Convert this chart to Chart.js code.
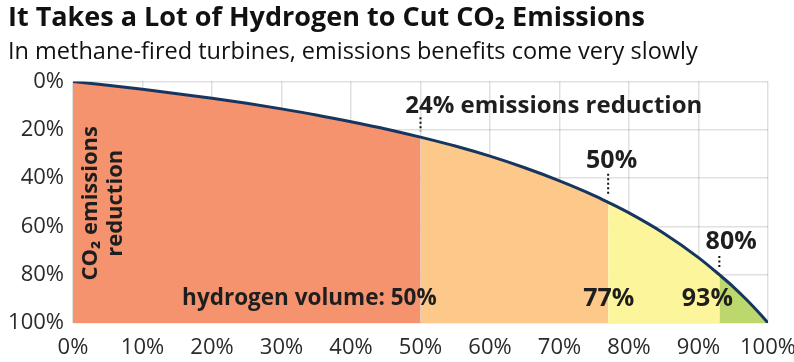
<!DOCTYPE html>
<html><head><meta charset="utf-8">
<script src="https://cdn.jsdelivr.net/npm/chart.js@4/dist/chart.umd.min.js"></script>
<style>html,body{margin:0;padding:0;background:#fff}#wrap{width:794px;height:362px}</style>
</head><body><div id="wrap"><canvas id="c" width="794" height="362"></canvas></div>
<script>
// hydrogen volume share (%) and CO2 emissions reduction (%)
const hydrogenVolume = [0, 5, 10, 15, 20, 25, 30, 35, 40, 45, 50, 55, 60, 65, 70, 75, 77, 80, 85, 90, 93, 95, 97, 99, 100];
const emissionsReduction = [0, 1.5, 3.2, 5.0, 6.9, 9.0, 11.3, 13.8, 16.6, 19.6, 23.0, 26.7, 30.9, 35.7, 41.1, 47.2, 50.0, 54.4, 62.8, 72.9, 80.0, 85.0, 90.6, 96.7, 100];
// colour band boundaries (hydrogen volume %)
const bandEdges = [0, 50, 77, 93, 100];
const bandColors = ['#f5936f', '#fcc98a', '#fdf59b', '#bcd86c'];
const xTicks = [0, 10, 20, 30, 40, 50, 60, 70, 80, 90, 100];
const yTicks = [0, 20, 40, 60, 80, 100];
// annotation labels: text, x (hydrogen %), y (reduction %)
const labelTexts = ['24% emissions reduction', '50%', '80%', 'hydrogen volume: 50%', '77%', '93%'];
const labelX = [47.8, 77.5, 94.7, 15.7, 73.4, 87.6];
const labelY = [10, 32.8, 66.4, 90, 90, 90];
const labelAlign = ['left', 'center', 'center', 'left', 'left', 'left'];
const labelSize = [24, 25, 25, 22.5, 25, 25];
// dotted leader lines: x (hydrogen %), from y to y (reduction %)
const leaderX = [50, 77, 93];
const leaderFrom = [14.8, 38.2, 72.2];
const leaderTo = [20.6, 46.8, 77.6];

const curvePts = hydrogenVolume.map((x, i) => ({x, y: emissionsReduction[i]}));
const bandSets = bandColors.map((col, b) => ({
  data: curvePts.filter(p => p.x >= bandEdges[b] && p.x <= bandEdges[b + 1]),
  backgroundColor: col, borderWidth: 0, pointRadius: 0, order: 2,
  fill: {value: 100}, cubicInterpolationMode: 'monotone'
}));

const FONT = "'Open Sans', sans-serif";
const annot = {
  id: 'annot',
  afterDatasetsDraw(chart) {
    const {ctx, scales: {x, y}} = chart;
    ctx.save();
    ctx.fillStyle = '#1e1e1e';
    ctx.textBaseline = 'middle';
    labelTexts.forEach((t, i) => {
      ctx.font = 'bold ' + labelSize[i] + 'px ' + FONT;
      ctx.textAlign = labelAlign[i];
      ctx.fillText(t, x.getPixelForValue(labelX[i]), y.getPixelForValue(labelY[i]));
    });
    ctx.strokeStyle = '#111';
    ctx.lineWidth = 2;
    ctx.setLineDash([2, 2.5]);
    leaderX.forEach((lx, i) => {
      const px = x.getPixelForValue(lx);
      ctx.beginPath();
      ctx.moveTo(px, y.getPixelForValue(leaderFrom[i]));
      ctx.lineTo(px, y.getPixelForValue(leaderTo[i]));
      ctx.stroke();
    });
    ctx.setLineDash([]);
    // y axis title, two rotated lines
    const cy = (y.top + y.bottom) / 2 + 1;
    ctx.font = 'bold 22px ' + FONT;
    ctx.textAlign = 'center';
    ctx.translate(91, cy);
    ctx.rotate(-Math.PI / 2);
    ctx.fillText('CO\u2082 emissions', 0, 0);
    ctx.fillText('reduction', 0, 25);
    ctx.restore();
  }
};

new Chart(document.getElementById('c'), {
  type: 'line',
  data: {
    datasets: [...bandSets, {
      data: curvePts, borderColor: '#16365f', borderWidth: 3, pointRadius: 0, order: 0,
      fill: false, cubicInterpolationMode: 'monotone'
    }]
  },
  plugins: [annot],
  options: {
    responsive: false, animation: false, devicePixelRatio: 1,
    layout: {padding: {left: 8, right: 0, top: 0, bottom: 0}},
    plugins: {
      legend: {display: false}, tooltip: {enabled: false},
      title: {display: true, text: 'It Takes a Lot of Hydrogen to Cut CO\u2082 Emissions', align: 'start',
        color: '#111', font: {family: FONT, size: 27, weight: 'bold'}, padding: {top: 2, bottom: 0}},
      subtitle: {display: true, text: 'In methane-fired turbines, emissions benefits come very slowly', align: 'start',
        color: '#111', font: {family: FONT, size: 23.5}, padding: {top: 4, bottom: 15}}
    },
    scales: {
      x: {
        type: 'linear', min: 0, max: 100, z: 1,
        afterBuildTicks: s => { s.ticks = xTicks.map(v => ({value: v})); },
        afterFit: s => { s.height = 39; s.paddingRight = 26; s.paddingLeft = 0; },
        ticks: {callback: v => v + '%', color: '#2a2a2a', font: {family: FONT, size: 22}, padding: 12, maxRotation: 0},
        grid: {color: 'rgba(0,0,0,0.12)', lineWidth: 1.5, drawTicks: false},
        border: {display: false}
      },
      y: {
        min: 0, max: 100, reverse: true, z: 1,
        afterBuildTicks: s => { s.ticks = yTicks.map(v => ({value: v})); },
        afterFit: s => { s.width = 65; },
        ticks: {callback: v => v + '%', color: '#2a2a2a', font: {family: FONT, size: 22}, padding: 9},
        grid: {color: 'rgba(0,0,0,0.12)', lineWidth: 1.5, drawTicks: false},
        border: {display: false}
      }
    }
  }
});
</script></body></html>
